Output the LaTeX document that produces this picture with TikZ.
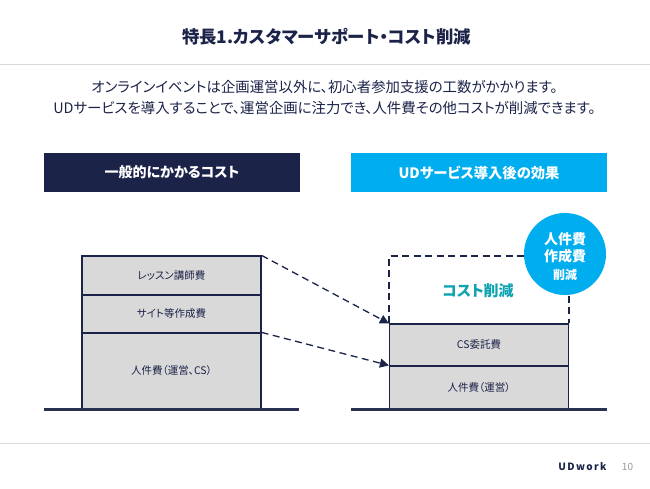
\documentclass[tikz,border=0pt]{standalone}
\usepackage{fontspec}
\setmainfont{Noto Sans CJK JP}[RawFeature=+palt]
\usetikzlibrary{arrows.meta}
\definecolor{navy}{HTML}{1B2349}
\definecolor{sky}{HTML}{00AEEF}
\definecolor{teal2}{HTML}{0FA3B1}
\definecolor{fillg}{HTML}{D9D9D9}
\definecolor{rulegr}{HTML}{D9D9D9}
\tikzset{
  px/.style={x=1pt,y=-1pt},
  band/.style={draw=navy,line width=1.2pt,fill=fillg,minimum width=179pt,inner sep=0pt,font=\fontsize{10.5}{12}\selectfont,text=navy},
  header/.style={minimum width=256pt,minimum height=39pt,inner sep=0pt,text=white,font=\bfseries\fontsize{14}{16}\selectfont},
  ground/.style={draw=navy!85!gray,line width=2.2pt},
  dashline/.style={draw=navy,line width=1.3pt,dash pattern=on 7pt off 4.5pt},
  darrow/.style={dashline,-{Triangle[length=9pt,width=9pt]}},
}
\begin{document}
\begin{tikzpicture}[px]
\useasboundingbox (0,0) rectangle (650,488);
\fill[white] (0,0) rectangle (650,488);
\coordinate (r1a) at (0,64.5); \coordinate (r1b) at (650,64.5);
\coordinate (r2a) at (0,443); \coordinate (r2b) at (650,443);
\draw[rulegr,line width=0.8pt] (r1a) -- (r1b);
\draw[rulegr,line width=0.8pt] (r2a) -- (r2b);
\node[text=navy,font=\bfseries\fontsize{17.4}{21}\selectfont] (title) at (326.5,37) {特長1.カスタマーサポート・コスト削減};
\node[text=navy,align=center,font=\fontsize{14.4}{20.3}\selectfont] (intro) at (324.5,97.5) {オンラインイベントは企画運営以外に、初心者参加支援の工数がかかります。\\UDサービスを導入することで、運営企画に注力でき、人件費その他コストが削減できます。};
\node[header,fill=navy] (hl) at (172,172.5) {一般的にかかるコスト};
\node[header,fill=sky] (hr) at (479,172.5) {\fontsize{14.3}{16}\selectfont UDサービス導入後の効果};
% left stack
\node[band,minimum height=39pt] (l1) at (171.5,275.5) {レッスン講師費};
\node[band,minimum height=38pt] (l2) at (171.5,314) {サイト等作成費};
\node[band,minimum height=76pt] (l3) at (171.5,371) {人件費（運営、CS）};
% right stack
\node[band,minimum height=42pt] (r1) at (479,345) {CS委託費};
\node[band,minimum height=43pt] (r2) at (479,387.5) {人件費（運営）};
\coordinate (gl1) at (44,409.5); \coordinate (gl2) at (299,409.5);
\coordinate (gr1) at (351,409.5); \coordinate (gr2) at (607,409.5);
\draw[ground] (gl1) -- (gl2);
\draw[ground] (gr1) -- (gr2);
% dashed box
\coordinate (dt1) at (r1.north west |- 0,256);
\coordinate (dt2) at (r1.north east |- 0,256);
\draw[dashline] (r1.north west) -- (dt1) -- (dt2) -- (r1.north east);
\draw[dashline] (r1.north west) -- (r1.north east);
\draw[darrow] (l1.north east) -- (r1.north west);
\draw[darrow] (l3.north east) -- (r2.north west);
\node[text=teal2,font=\bfseries\fontsize{15}{17}\selectfont] (cut) at (478,291) {コスト削減};
\node[circle,fill=sky,minimum size=82pt,inner sep=0pt] (badge) at (565,254) {};
\node[text=white,align=center,inner sep=0pt,font=\bfseries\fontsize{14}{17.5}\selectfont] (badgetext) at (565,256.5) {人件費\\作成費\\{\fontsize{12}{15}\selectfont 削減}};
\node[text=navy,font=\bfseries\fontsize{10}{12}\selectfont] (logo) at (582.5,467) {\addfontfeature{LetterSpace=14}UDwork};
\node[text=gray!80,font=\fontsize{10}{12}\selectfont] (page) at (627.5,467) {10};
\end{tikzpicture}
\end{document}
